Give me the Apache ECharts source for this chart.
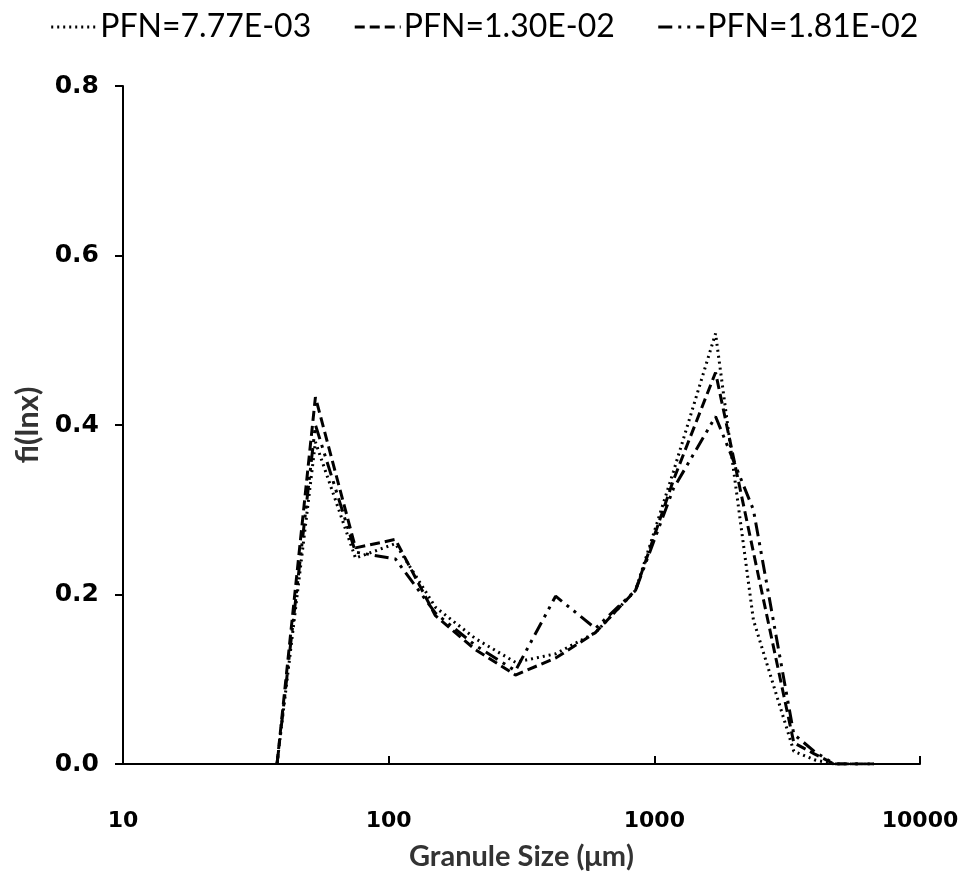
<!DOCTYPE html>
<html><head><meta charset="utf-8">
<script src="https://cdn.jsdelivr.net/npm/echarts@6/dist/echarts.min.js"></script>
<style>html,body{margin:0;padding:0;background:#fff}#c{width:968px;height:876px}</style>
</head><body><div id="c"></div>
<script>
const sizes = [38, 53, 75, 106, 150, 212, 300, 425, 600, 850, 1180, 1700, 2360, 3350, 4000, 4750, 6700];
const pfn1 = [0, 0.38, 0.243, 0.26, 0.185, 0.148, 0.12, 0.13, 0.155, 0.205, 0.345, 0.508, 0.17, 0.015, 0.005, 0, 0];
const pfn2 = [0, 0.433, 0.255, 0.265, 0.175, 0.135, 0.105, 0.125, 0.155, 0.205, 0.335, 0.462, 0.25, 0.025, 0.012, 0, 0];
const pfn3 = [0, 0.40, 0.25, 0.242, 0.178, 0.14, 0.11, 0.198, 0.16, 0.205, 0.325, 0.41, 0.30, 0.035, 0.015, 0, 0];
const names = ['PFN=7.77E-03', 'PFN=1.30E-02', 'PFN=1.81E-02'];
const xTicks = [10, 100, 1000, 10000];
const yTicks = [0, 0.2, 0.4, 0.6, 0.8];

const pairs = arr => sizes.map((s, i) => [s, arr[i]]);
const styles = [[2, 4], [10, 5], [14, 6, 3, 6, 3, 6]];
const chart = echarts.init(document.getElementById('c'));
chart.setOption({
  animation: false,
  legend: {
    top: 6, left: 'center', itemGap: 42, itemWidth: 46, itemHeight: 20,
    itemStyle: {opacity: 0},
    lineStyle: {width: 3},
    textStyle: {fontFamily: 'Lato', fontSize: 32, color: '#000', padding: [0, 0, 0, -2]},
    data: names
  },
  grid: {left: 123, right: 48, top: 86, bottom: 110},
  xAxis: {
    type: 'log', logBase: 10, min: 10, max: 10000,
    name: 'Granule Size (\u03bcm)', nameLocation: 'middle', nameGap: 78,
    nameTextStyle: {fontFamily: 'Lato', fontWeight: 'bold', fontSize: 29, color: '#333'},
    axisLine: {lineStyle: {color: '#000', width: 2}},
    axisTick: {show: true, inside: true, length: 8, lineStyle: {color: '#000', width: 2}},
    minorTick: {show: false},
    splitLine: {show: false},
    axisLabel: {margin: 46, fontFamily: 'DejaVu Sans', fontWeight: 'bold', fontSize: 22, color: '#000',
      formatter: v => String(Math.round(v))}
  },
  yAxis: {
    type: 'value', min: 0, max: 0.8, interval: 0.2,
    name: 'fi(lnx)', nameLocation: 'middle', nameGap: 74, nameRotate: 90,
    nameTextStyle: {fontFamily: 'Lato', fontWeight: 'bold', fontSize: 31, color: '#333'},
    axisLine: {show: true, lineStyle: {color: '#000', width: 2}},
    axisTick: {show: true, length: 8, lineStyle: {color: '#000', width: 2}},
    splitLine: {show: false},
    axisLabel: {margin: 24, fontFamily: 'DejaVu Sans', fontWeight: 'bold', fontSize: 25, color: '#000',
      formatter: v => v.toFixed(1)}
  },
  series: [pfn1, pfn2, pfn3].map((arr, i) => ({
    name: names[i], type: 'line', data: pairs(arr), symbol: 'none', showSymbol: false,
    lineStyle: {color: '#000', width: 3, type: styles[i]},
    itemStyle: {color: '#000'}
  }))
});
</script></body></html>
